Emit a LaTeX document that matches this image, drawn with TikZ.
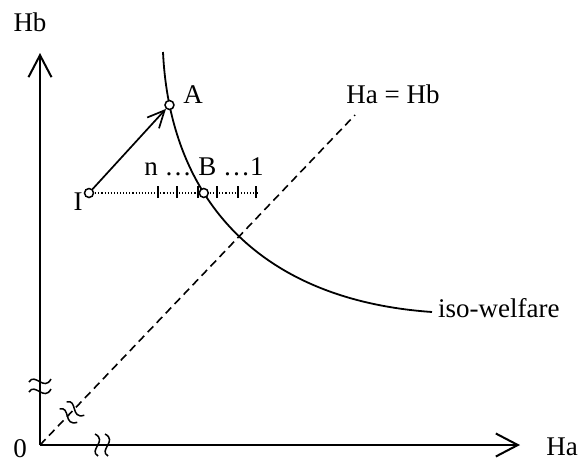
\documentclass[tikz,border=0pt]{standalone}
\usepackage{fontspec}
\setmainfont{Liberation Serif}
\usetikzlibrary{arrows.meta,intersections}
\tikzset{
  lbl/.style={inner sep=0pt, font=\fontsize{27}{31}\selectfont},
  axis/.style={line width=2pt, -{Straight Barb[length=22pt,width=23pt,line width=2pt]}},
  mk/.style={circle, draw, fill=white, line width=1.5pt, minimum size=9pt, inner sep=0pt},
  brk/.pic={
    \draw[line width=1.5pt] (-11,-2) .. controls (-5,-12) and (4,8) .. (11,-5);
    \draw[line width=1.5pt] (-11,8) .. controls (-5,-2) and (4,18) .. (11,5);
  }
}
\begin{document}
\begin{tikzpicture}[x=1pt,y=-1pt]
\useasboundingbox (0,0) rectangle (583,464);
\coordinate (O) at (40,445);
\coordinate (Ytop) at (40,53);
\coordinate (Xend) at (520,445);
\coordinate (D) at (355,115);
\coordinate (C0) at (163,52);
\coordinate (C1) at (432,312);
\coordinate (I) at (89,193);
\coordinate (Dend) at (258,193);
% axes
\draw[axis] (O) -- (Ytop);
\draw[axis] (O) -- (Xend);
\draw[line width=1.6pt, dash pattern=on 8pt off 5pt] (O) -- (D);
% labels
\node[lbl] (hb) at (30,22) {Hb};
\node[lbl] (ha) at (562,447) {Ha};
\node[lbl] (zero) at (20,449) {0};
\node[lbl] (hahb) at (393,94) {Ha = Hb};
% breaks
\pic at (40,384) {brk};
\pic[rotate=90] at (100,445) {brk};
\pic[rotate=-45] at (73,411) {brk};
% curve
\draw[line width=1.8pt, name path=curve] (C0) .. controls (170,200) and (260,300) .. (C1);
\node[lbl, anchor=west] (iso) at (438,308) {iso-welfare};
\path[name path=hA] (100,105) -- (300,105);
\path[name path=hB] (100,193) -- (300,193);
\path[name intersections={of=curve and hA, by=Apt}];
\path[name intersections={of=curve and hB, by=Bpt}];
% dotted line and ticks
\draw[line width=1.1pt, dotted] (I) -- (Dend);
\foreach \x in {158,177,198,217,238,256}
  \draw[line width=1.4pt] (\x,186) -- (\x,198);
% markers
\node[mk] (A) at (Apt) {};
\node[mk] (B) at (Bpt) {};
\node[mk] (Im) at (I) {};
\draw[line width=1.7pt, -{Straight Barb[length=17pt,width=16pt,line width=1.7pt]}] (Im) -- (A);
\node[lbl] (Al) at (193,95) {A};
\node[lbl] (Il) at (78,202) {I};
\node[lbl] (nb) at (204,167) {n \dots\ B \dots1};
\end{tikzpicture}
\end{document}
